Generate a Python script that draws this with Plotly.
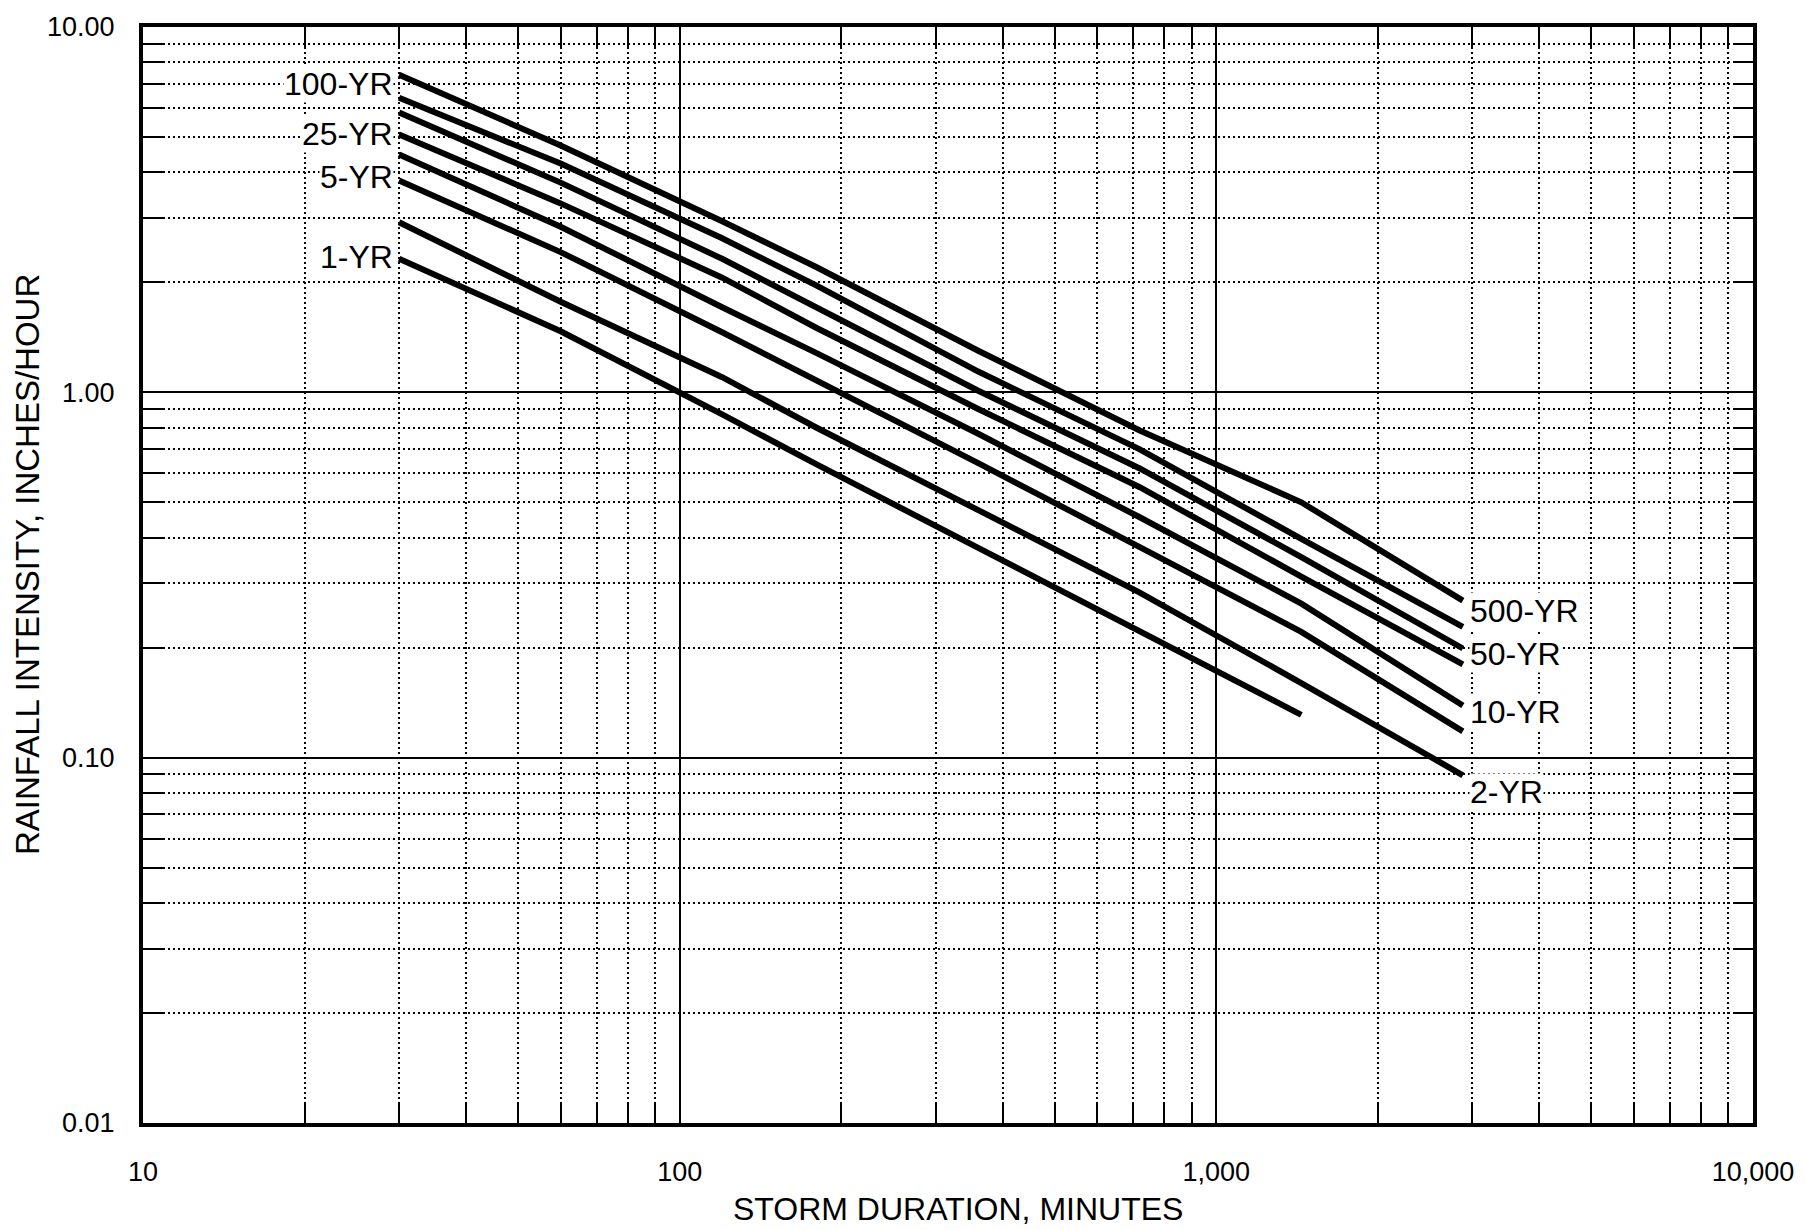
import math
import plotly.graph_objects as go

# Storm durations (minutes) at which intensities are tabulated
durations = [30, 60, 120, 180, 360, 720, 1440, 2880]

# Rainfall intensity (inches/hour) for each return period
i_500yr = [7.40, 4.74, 2.94, 2.20, 1.30, 0.786, 0.500, 0.269]
i_100yr = [6.40, 4.23, 2.64, 1.96, 1.14, 0.698, 0.397, 0.228]
i_50yr = [5.83, 3.75, 2.32, 1.71, 1.01, 0.619, 0.354, 0.199]
i_25yr = [5.08, 3.29, 2.06, 1.50, 0.90, 0.550, 0.313, 0.180]
i_10yr = [4.48, 2.84, 1.71, 1.28, 0.77, 0.455, 0.264, 0.139]
i_5yr = [3.80, 2.42, 1.46, 1.08, 0.64, 0.377, 0.221, 0.118]
i_2yr = [2.92, 1.77, 1.10, 0.80, 0.476, 0.283, 0.160, 0.0895]
i_1yr = [2.32, 1.47, 0.87, 0.635, 0.375, 0.221, 0.131]  # ends at 24 hours

# (label, values, side the label sits on, vertical label offset in px)
series = [
    ("500-YR", i_500yr, "right", -10),
    ("100-YR", i_100yr, "left", 14),
    ("50-YR", i_50yr, "right", -6),
    ("25-YR", i_25yr, "left", 0),
    ("10-YR", i_10yr, "right", -7),
    ("5-YR", i_5yr, "left", 4),
    ("2-YR", i_2yr, "right", -17),
    ("1-YR", i_1yr, "left", 2),
]

x_major = [10, 100, 1000, 10000]
x_major_text = ["10", "100", "1,000", "10,000"]
y_major = [0.01, 0.1, 1, 10]
y_major_text = ["0.01", "0.10", "1.00", "10.00"]

x_minor = [m * d for d in (10, 100, 1000) for m in range(2, 10)]
y_minor = [m * d for d in (0.01, 0.1, 1) for m in range(2, 10)]

FONT = "Liberation Sans, Arial, Helvetica, sans-serif"

fig = go.Figure()
annotations = []
for name, vals, side, yshift in series:
    xs = durations[: len(vals)]
    fig.add_trace(go.Scatter(
        x=xs, y=vals, mode="lines", name=name,
        line=dict(color="black", width=6),
        showlegend=False, hoverinfo="x+y+name",
    ))
    if side == "left":
        ax, ay, anchor, xshift = xs[0], vals[0], "right", -5
    else:
        ax, ay, anchor, xshift = xs[-1], vals[-1], "left", 6
    annotations.append(dict(
        x=math.log10(ax), y=math.log10(ay), xref="x", yref="y",
        text=name, showarrow=False, xanchor=anchor, yanchor="middle",
        xshift=xshift, yshift=yshift, bgcolor="white", borderpad=0,
        font=dict(family=FONT, size=32, color="black"),
    ))

# Axis titles placed as paper-anchored text
annotations.append(dict(
    text="STORM DURATION, MINUTES", xref="paper", yref="paper",
    x=0.5, y=0, xshift=10, yshift=-86, xanchor="center", yanchor="middle",
    showarrow=False, font=dict(family=FONT, size=32, color="black"),
))
annotations.append(dict(
    text="RAINFALL INTENSITY, INCHES/HOUR", xref="paper", yref="paper",
    x=0, y=0.5, xshift=-116, yshift=10, xanchor="center", yanchor="middle",
    textangle=-90, showarrow=False,
    font=dict(family=FONT, size=33, color="black"),
))

axis_common = dict(
    type="log",
    showline=True, linecolor="black", linewidth=4, mirror="ticks",
    ticks="inside", ticklen=20, tickwidth=2, tickcolor="black",
    showgrid=True, gridcolor="black", gridwidth=1.6,
    zeroline=False,
    tickfont=dict(family=FONT, size=27, color="black"),
    tickmode="array",
)
minor_common = dict(
    tickmode="array", ticks="inside", ticklen=20, tickwidth=2,
    tickcolor="black", showgrid=True, gridcolor="black", gridwidth=2,
    griddash="2px,3px",
)

fig.update_layout(
    width=1806, height=1230, autosize=False,
    margin=dict(l=143, r=53, t=23, b=107),
    paper_bgcolor="white", plot_bgcolor="white",
    annotations=annotations,
    xaxis=dict(
        **axis_common,
        range=[1, 4],
        tickvals=x_major, ticktext=x_major_text,
        ticklabelstandoff=22,
        minor=dict(**minor_common, tickvals=x_minor),
    ),
    yaxis=dict(
        **axis_common,
        range=[-2, 1],
        tickvals=y_major, ticktext=y_major_text,
        ticklabelstandoff=19,
        minor=dict(**minor_common, tickvals=y_minor),
    ),
)

fig.write_html("out.html")
